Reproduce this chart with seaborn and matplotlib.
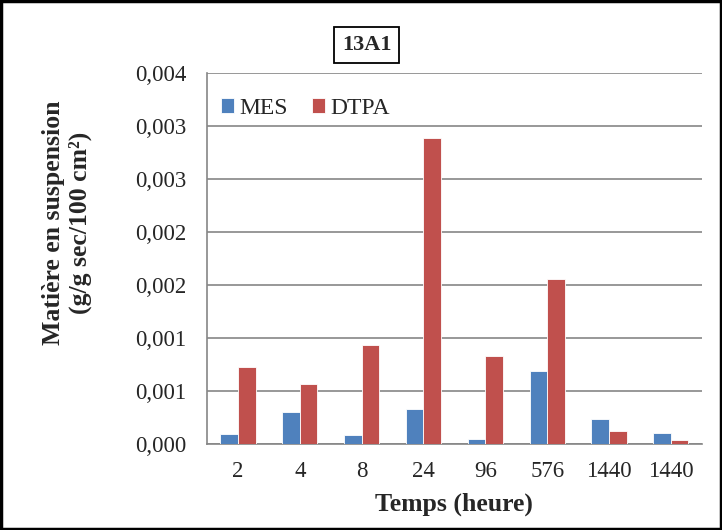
import matplotlib
matplotlib.use("Agg")
import matplotlib.pyplot as plt
from matplotlib.patches import Rectangle
from matplotlib.ticker import FixedLocator
import seaborn as sns
import pandas as pd
import numpy as np

# Data
temps_labels = ["2", "4", "8", "24", "96", "576", "1440", "1440"]
mes = [0.000095, 0.000305, 0.000088, 0.000334, 0.00005, 0.000686, 0.000236, 0.0001]
dtpa = [0.000727, 0.000566, 0.000931, 0.002889, 0.000831, 0.001558, 0.00012, 0.000035]
series_names = ["MES", "DTPA"]
colors = ["#4F81BD", "#C0504D"]
yticks = [0, 0.0005, 0.001, 0.0015, 0.002, 0.0025, 0.003, 0.0035]
ytick_labels = ["0,000", "0,001", "0,001", "0,002", "0,002", "0,003", "0,003", "0,004"]

sns.set_style("white")
plt.rcParams["font.family"] = ["Liberation Serif", "DejaVu Serif"]

idx = [f"c{i}" for i in range(len(temps_labels))]
df = pd.DataFrame({
    "cat": idx * 2,
    "value": mes + dtpa,
    "serie": [series_names[0]] * len(mes) + [series_names[1]] * len(dtpa),
})

fig = plt.figure(figsize=(7.22, 5.30), dpi=100)
ax = fig.add_axes([0.2867, 0.1623, 0.972 - 0.2867, 0.8623 - 0.1623])

sns.barplot(data=df, x="cat", y="value", hue="serie", order=idx,
            hue_order=series_names, palette=colors, width=0.57, saturation=1,
            edgecolor="white", linewidth=0.6, ax=ax, errorbar=None, zorder=3)

ax.set_ylim(0, 0.0035)
ax.set_xlim(-0.5, len(idx) - 0.5)
ax.set_yticks(yticks)
ax.set_yticklabels(ytick_labels, fontsize=16.5)
ax.set_xticks(range(len(idx)))
ax.set_xticklabels(temps_labels, fontsize=16.5)
ax.xaxis.set_minor_locator(FixedLocator(np.arange(-0.5, len(idx), 1.0)))
ax.tick_params(axis="x", which="major", length=0, pad=12)
ax.tick_params(axis="x", which="minor", length=7, width=1.2, color="#868686", direction="out")
ax.tick_params(axis="y", which="major", length=7, width=1.2, color="#868686", direction="out", pad=8)

ax.grid(axis="y", color="#868686", linewidth=1.2, zorder=0)
ax.set_axisbelow(True)
for s in ["top", "right"]:
    ax.spines[s].set_visible(False)
for s in ["left", "bottom"]:
    ax.spines[s].set_color("#868686")
    ax.spines[s].set_linewidth(1.2)

ax.set_xlabel("Temps (heure)", fontsize=18.5, fontweight="bold", labelpad=8)
ax.set_ylabel("Matière en suspension\n(g/g sec/100 cm²)", fontsize=18.5, fontweight="bold",
              linespacing=1.2)
ax.yaxis.set_label_coords(-0.232, 0.595)

leg = ax.legend(loc="upper left", bbox_to_anchor=(-0.015, 0.99), ncol=2, frameon=False,
                fontsize=17, handlelength=0.55, handleheight=0.55, handletextpad=0.25,
                columnspacing=1.0)

fig.text(0.508, 0.915, "13A1", fontsize=16, fontweight="bold", ha="center", va="center",
         bbox=dict(boxstyle="square,pad=0.35", facecolor="white", edgecolor="black", linewidth=1.3))

fig.add_artist(Rectangle((0.002, 0.002), 0.996, 0.996, transform=fig.transFigure,
                         fill=False, edgecolor="black", linewidth=2.5))

fig.savefig("out.png", dpi=100)
